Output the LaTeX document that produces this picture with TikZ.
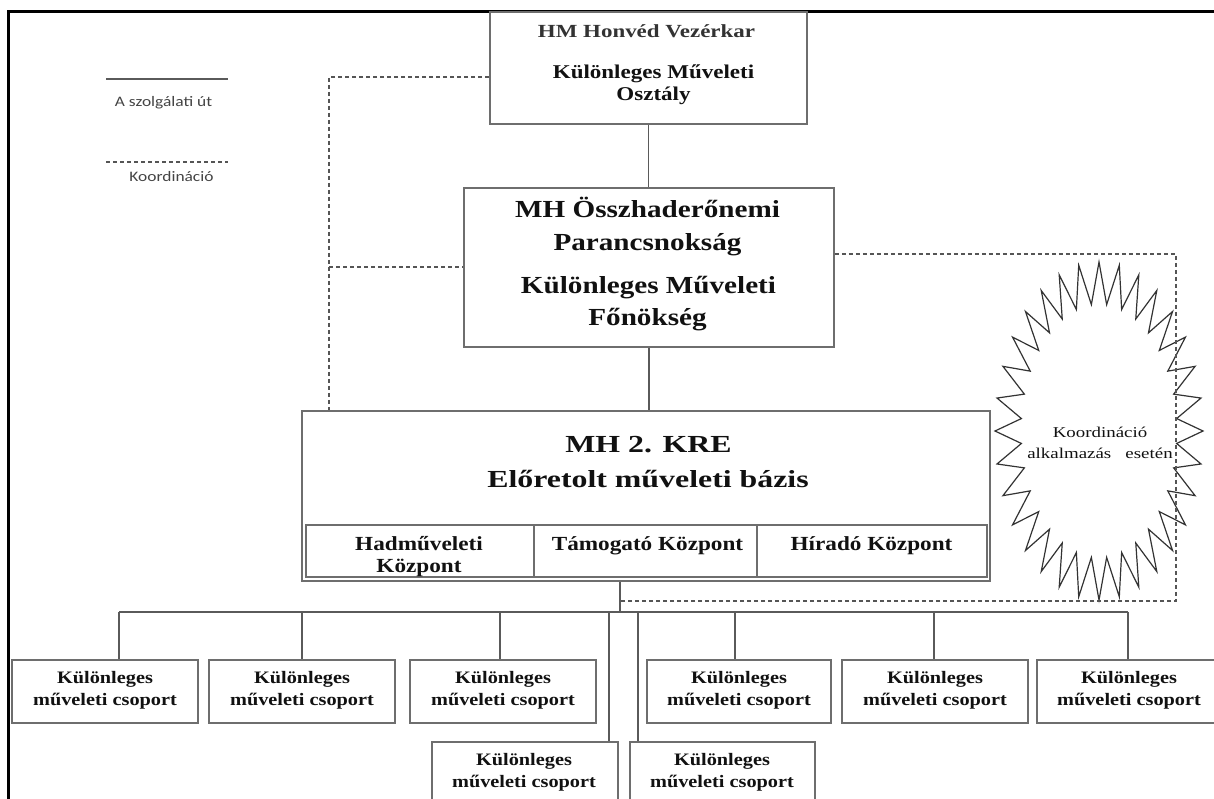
\documentclass[tikz,border=0pt]{standalone}
\usepackage{fontspec}
\setmainfont{Liberation Serif}
\newfontfamily\fHM[FakeStretch=1.24]{Liberation Serif}
\newfontfamily\fTop[FakeStretch=1.18]{Liberation Serif}
\newfontfamily\fMid[FakeStretch=1.19]{Liberation Serif}
\newfontfamily\fKre[FakeStretch=1.30]{Liberation Serif}
\newfontfamily\fRow[FakeStretch=1.16]{Liberation Serif}
\newfontfamily\fBur[FakeStretch=1.26]{Liberation Serif}
\newfontfamily\fLeg[FakeStretch=1.20]{Carlito}
\definecolor{boxgray}{HTML}{6E6E6E}
\definecolor{linegray}{HTML}{5A5A5A}
\definecolor{dashgray}{HTML}{555555}
\definecolor{txtdark}{HTML}{111111}
\definecolor{leggray}{HTML}{444444}
\tikzset{
  box/.style={draw=boxgray, line width=1.6pt, rectangle, inner sep=0pt, fill=white},
  conn/.style={draw=linegray, line width=1.6pt},
  dsh/.style={draw=dashgray, line width=1.3pt, dash pattern=on 4pt off 3pt},
  lbl/.style={anchor=base, inner sep=0pt, text=txtdark},
  tHM/.style={lbl, text=black!80, font=\fHM\bfseries\fontsize{18.5}{20}\selectfont},
  tTop/.style={lbl, font=\fTop\bfseries\fontsize{19.5}{21}\selectfont},
  tMid/.style={lbl, font=\fMid\bfseries\fontsize{24.5}{26}\selectfont},
  tKre/.style={lbl, font=\fKre\bfseries\fontsize{24.5}{26}\selectfont},
  tRow/.style={lbl, font=\fRow\bfseries\fontsize{20}{22}\selectfont},
  tGrp/.style={lbl, font=\fRow\bfseries\fontsize{17.5}{19}\selectfont},
  tBur/.style={lbl, font=\fBur\fontsize{15}{17}\selectfont},
  tLeg/.style={lbl, text=leggray, font=\fLeg\fontsize{14.5}{16}\selectfont},
  burst/.style={draw=black!80, line width=1.2pt, line join=miter},
}
\begin{document}
\begin{tikzpicture}[x=1pt,y=-1pt]
\useasboundingbox (0,0) rectangle (1214,798);
\clip (0,0) rectangle (1214,798);
\fill[white] (0,0) rectangle (1214,798);

% frame
\draw[line width=3pt, black] (8,800) -- (8,11.5) -- (1216,11.5);

% legend
\coordinate (lg1a) at (106,79);
\coordinate (lg1b) at (228,79);
\draw[draw=linegray, line width=1.5pt] (lg1a) -- (lg1b);
\node[tLeg] (lgt1) at (163.5,106) {A szolgálati út};
\coordinate (lg2a) at (106,162);
\coordinate (lg2b) at (228,162);
\draw[dsh] (lg2a) -- (lg2b);
\node[tLeg] (lgt2) at (171.5,181) {Koordináció};

% dashed coordination lines
\coordinate (k1) at (329,77);
\coordinate (k2) at (329,267);
\coordinate (k3) at (1176,254);
\coordinate (k4) at (620,601);

% boxes
\node[box, minimum width=317pt, minimum height=112pt] (tb) at (648.5,68) {};
\node[box, minimum width=370pt, minimum height=159pt] (b2) at (649,267.5) {};
\node[box, minimum width=688pt, minimum height=170pt] (b3) at (646,496) {};
\node[box, minimum width=228pt, minimum height=52pt] (c1) at (420,551) {};
\node[box, minimum width=223pt, minimum height=52pt] (c2) at (645.5,551) {};
\node[box, minimum width=230pt, minimum height=52pt] (c3) at (872,551) {};

\draw[dsh] (k1 -| tb.west) -- (k1) -- (k1 |- b3.north);
\draw[dsh] (k2) -- (k2 -| b2.west);

% burst
\draw[burst] (1099,262) \foreach \i in {1,...,63} { -- ({1099+cos(90+\i*5.625)*(78+26*(1-mod(\i,2)))}, {431-sin(90+\i*5.625)*(127+42*(1-mod(\i,2)))}) } -- cycle;
\node[tBur] (bt1) at (1100,437) {Koordináció};
\node[tBur] (bt2) at (1100,458) {alkalmazás\ \ \ esetén};

\draw[dsh] (k3 -| b2.east) -- (k3) |- (k4);

% texts top box
\node[tHM] (t1) at (646.5,37) {HM Honvéd Vezérkar};
\node[tTop] (t2) at (653.5,78) {Különleges Műveleti};
\node[tTop] (t3) at (653.5,100) {Osztály};
% box 2
\node[tMid] (t4) at (647.5,217) {MH Összhaderőnemi};
\node[tMid] (t5) at (647.5,250) {Parancsnokság};
\node[tMid] (t6) at (648.5,293) {Különleges Műveleti};
\node[tMid] (t7) at (647.5,325) {Főnökség};
% box 3
\node[tKre] (t8) at (648.5,452) {MH 2. KRE};
\node[tKre] (t9) at (648,487) {Előretolt műveleti bázis};
\node[tRow] (t10) at (419,550) {Hadműveleti};
\node[tRow] (t11) at (419,572) {Központ};
\node[tRow] (t12) at (647.5,550) {Támogató Központ};
\node[tRow] (t13) at (871.5,550) {Híradó Központ};

% main connectors
\draw[conn] (tb.south) -- (tb.south |- b2.north);
\draw[conn] (b2.south) -- (b2.south |- b3.north);

% groups
\node[box, minimum width=186pt, minimum height=63pt] (g1) at (105,691.5) {};
\node[box, minimum width=186pt, minimum height=63pt] (g2) at (302,691.5) {};
\node[box, minimum width=186pt, minimum height=63pt] (g3) at (503,691.5) {};
\node[box, minimum width=184pt, minimum height=63pt] (g4) at (739,691.5) {};
\node[box, minimum width=186pt, minimum height=63pt] (g5) at (935,691.5) {};
\node[box, minimum width=184pt, minimum height=63pt] (g6) at (1129,691.5) {};
\node[box, minimum width=186pt, minimum height=70pt] (l1) at (525,777) {};
\node[box, minimum width=185pt, minimum height=70pt] (l2) at (722.5,777) {};

\foreach \g/\cx in {g1/105,g2/302,g3/503,g4/739,g5/935,g6/1129} {
  \node[tGrp] (\g a) at (\cx,683) {Különleges};
  \node[tGrp] (\g b) at (\cx,705) {műveleti csoport};
}
\node[tGrp] (l1a) at (524,765) {Különleges};
\node[tGrp] (l1b) at (524,787) {műveleti csoport};
\node[tGrp] (l2a) at (722,765) {Különleges};
\node[tGrp] (l2b) at (722,787) {műveleti csoport};

% bus
\coordinate (bj) at (620,612);
\coordinate (d1) at (119,612);
\coordinate (d2) at (302,612);
\coordinate (d3) at (500,612);
\coordinate (d4) at (735,612);
\coordinate (d5) at (934,612);
\coordinate (d6) at (1128,612);
\coordinate (d7) at (609,612);
\coordinate (d8) at (638,612);
\draw[conn] (b3.south -| bj) -- (bj);
\draw[conn] (d1) -- (d6);
\draw[conn] (d1) -- (d1 |- g1.north);
\draw[conn] (d2) -- (d2 |- g2.north);
\draw[conn] (d3) -- (d3 |- g3.north);
\draw[conn] (d4) -- (d4 |- g4.north);
\draw[conn] (d5) -- (d5 |- g5.north);
\draw[conn] (d6) -- (d6 |- g6.north);
\draw[conn] (d7) -- (d7 |- l1.north);
\draw[conn] (d8) -- (d8 |- l2.north);
\end{tikzpicture}
\end{document}
